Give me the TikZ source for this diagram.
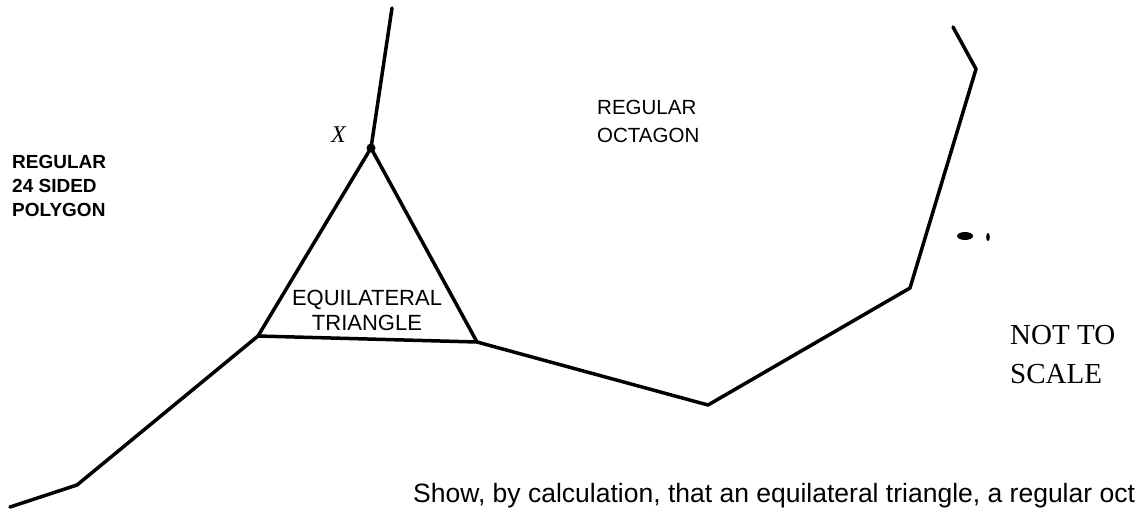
\documentclass[tikz,border=0pt]{standalone}
\usepackage{fontspec}
\setmainfont{Liberation Serif}
\setsansfont{Liberation Sans}
\begin{document}
\begin{tikzpicture}[x=1pt,y=-1pt,
  edge/.style={line width=3.5pt, line cap=round, line join=round},
  lbl/.style={inner sep=0pt, align=left, anchor=north west}]
\useasboundingbox (0,0) rectangle (1140,514);
\clip (0,0) rectangle (1140,514);
% vertices
\coordinate (top) at (392,8);
\coordinate (X) at (371,148);
\coordinate (L) at (258,336);
\coordinate (R) at (477,342);
\coordinate (p1) at (77,485);
\coordinate (p2) at (10,507);
\coordinate (o1) at (708,405);
\coordinate (o2) at (910,288);
\coordinate (o3) at (976,69);
\coordinate (o4) at (953,27);
% lines
\draw[edge] (top) -- (X);
\draw[edge] (X) -- (L) -- (R) -- cycle;
\draw[edge] (L) -- (p1) -- (p2);
\draw[edge] (R) -- (o1) -- (o2) -- (o3) -- (o4);
\fill (X) circle (4.5);
% stray marks
\fill (965,236) ellipse (8 and 4);
\fill (988,237) ellipse (1.8 and 4);
% labels
\node[lbl, font=\sffamily\bfseries\fontsize{19}{24}\selectfont] (l24) at (12,155) {REGULAR\\24 SIDED\\POLYGON};
\node[lbl, font=\sffamily\fontsize{20.5}{28}\selectfont] (loct) at (597,100) {REGULAR\\OCTAGON};
\node[inner sep=0pt, align=center, anchor=north, font=\sffamily\fontsize{22}{25}\selectfont] (ltri) at (367,290) {EQUILATERAL\\TRIANGLE};
\node[inner sep=0pt, anchor=north west, font=\rmfamily\itshape\fontsize{24}{24}\selectfont] (lx) at (331,127) {X};
\node[lbl, font=\rmfamily\fontsize{29}{39}\selectfont] (lns) at (1010,325) {NOT TO\\SCALE};
\node[inner sep=0pt, anchor=base west, font=\sffamily\fontsize{26.5}{26.5}\selectfont] (lq) at (413,502) {Show, by calculation, that an equilateral triangle, a regular oct};
\end{tikzpicture}
\end{document}
